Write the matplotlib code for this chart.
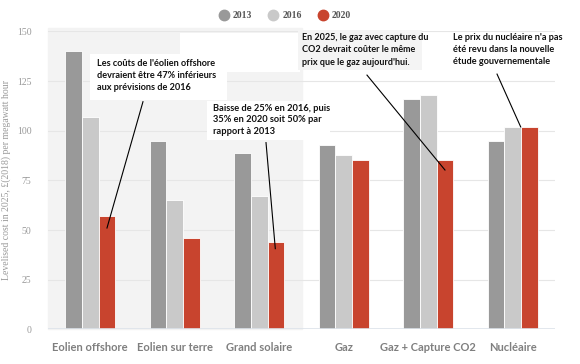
import matplotlib
matplotlib.use("Agg")
import matplotlib.pyplot as plt
from matplotlib.lines import Line2D
from matplotlib.patches import Rectangle
import numpy as np

# Data
categories = ["Eolien offshore", "Eolien sur terre", "Grand solaire",
              "Gaz", "Gaz + Capture CO2", "Nucléaire"]
years = ["2013", "2016", "2020"]
cost2013 = [140, 95, 89, 93, 116, 95]
cost2016 = [107, 65, 67, 88, 118, 102]
cost2020 = [57, 46, 44, 85, 85, 102]
colours = ["#999999", "#c9c9c9", "#c8442e"]

W, H = 580, 364
fig = plt.figure(figsize=(5.8, 3.64), dpi=100)
ax = fig.add_axes([48 / W, 1 - 329.3 / H, 507 / W, 297.9 / H])

def fx(px):
  return px / W

def fy(py):
  return 1 - py / H

x = np.arange(len(categories))
bw = 0.197
ax.axvspan(-0.5, 2.5, ymin=0, ymax=1.01, color="#f3f3f3", zorder=0, clip_on=False)
for i, vals in enumerate([cost2013, cost2016, cost2020]):
  ax.bar(x + (i - 1) * bw, vals, bw, color=colours[i], edgecolor="white",
         linewidth=0.6, zorder=3)

ax.set_xlim(-0.5, 5.5)
ax.set_ylim(0, 150)
ax.set_yticks([0, 25, 50, 75, 100, 125, 150])
ax.yaxis.grid(True, color="#e6e6e6", linewidth=0.8, zorder=1)
ax.axhline(0, color="#dde3ea", linewidth=1.2, zorder=4)
for s in ax.spines.values():
  s.set_visible(False)
ax.tick_params(axis="both", length=0)
ax.tick_params(axis="y", pad=12, labelsize=7, labelcolor="#999999")
for t in ax.get_yticklabels():
  t.set_fontfamily("Liberation Serif")
ax.set_xticks(x)
ax.set_xticklabels(categories, fontfamily="Lato", fontweight="bold",
                   fontsize=8, color="#7f7f7f")
ax.tick_params(axis="x", pad=9)
ax.set_ylabel("Levelised cost in 2025, £(2018) per megawatt hour",
              fontfamily="Liberation Serif", fontsize=7, color="#999999",
              labelpad=2)
ax.yaxis.set_label_coords(-0.072, 0.5)

# Legend
handles = [Line2D([], [], marker="o", linestyle="", markersize=7.5,
                  markerfacecolor=c, markeredgecolor=c) for c in colours]
leg = fig.legend(handles, years, loc="center", ncol=3, frameon=False,
                 bbox_to_anchor=(fx(285), fy(16)), handletextpad=0.4,
                 columnspacing=1.7, handlelength=1.0,
                 prop={"family": "Liberation Serif", "weight": "bold", "size": 7})
for t in leg.get_texts():
  t.set_color("#555555")

# Annotation boxes
def box(x0, y0, x1, y1, colour):
  fig.add_artist(Rectangle((fx(x0), fy(y1)), fx(x1) - fx(x0), fy(y0) - fy(y1),
                           transform=fig.transFigure, facecolor=colour,
                           edgecolor="none", zorder=5))

box(180, 33, 300, 72, "white")
box(90, 54, 227, 100, "white")
box(207, 101, 330, 140, "white")
box(298, 30, 422, 70, "#f4f4f4")
box(448, 33, 565, 70, "white")

notes = [
  ("Les coûts de l'éolien offshore\ndevraient être 47% inférieurs\naux prévisions de 2016", 97, 59, 6.6, 1.45),
  ("Baisse de 25% en 2016, puis\n35% en 2020 soit 50% par\nrapport à 2013", 213, 104, 6.7, 1.35),
  ("En 2025, le gaz avec capture du\nCO2 devrait coûter le même\nprix que le gaz aujourd'hui.", 302, 33, 6.5, 1.48),
  ("Le prix du nucléaire n'a pas\nété revu dans la nouvelle\nétude gouvernementale", 453, 33, 6.6, 1.46),
]
for txt, px, py, size, ls in notes:
  fig.text(fx(px), fy(py), txt, ha="left", va="top", fontfamily="Lato",
           fontweight="bold", fontsize=size, color="#111111",
           linespacing=ls, zorder=6)

# Pointer lines (start, end) in data units
pointers = [((0.624, 114.6), (0.198, 51.0)),
            ((2.08, 94.0), (2.19, 40.6)),
            ((3.275, 128.0), (4.198, 80.2)),
            ((4.814, 128.5), (5.094, 101.9))]
for (x0, y0), (x1, y1) in pointers:
  ax.plot([x0, x1], [y0, y1], color="black", linewidth=0.8, zorder=6,
          clip_on=False)

fig.savefig("out.png", dpi=100)
